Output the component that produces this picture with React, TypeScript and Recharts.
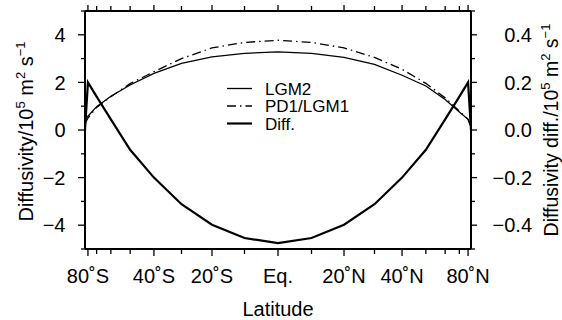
import React from 'react';
import { LineChart, Line, XAxis, YAxis, Legend } from 'recharts';

const latitudes = [-90, -80, -70, -60, -50, -40, -30, -20, -10, 0, 10, 20, 30, 40, 50, 60, 70, 80, 90];
const lgm2 = [0.45, 0.58, 0.98, 1.42, 1.89, 2.38, 2.8, 3.07, 3.22, 3.28, 3.22, 3.05, 2.76, 2.3, 1.85, 1.28, 0.76, 0.45, 0.15];
const pd1 = [0.28, 0.5, 0.95, 1.4, 1.95, 2.45, 3.0, 3.45, 3.68, 3.77, 3.68, 3.45, 3.05, 2.55, 1.96, 1.35, 0.8, 0.45, 0.1];
const diff = [0.0, 0.2, 0.14, 0.045, -0.083, -0.2, -0.312, -0.398, -0.454, -0.475, -0.454, -0.398, -0.312, -0.2, -0.083, 0.045, 0.14, 0.2, 0.0];

const seriesNames = ['LGM2', 'PD1/LGM1', 'Diff.'];
const xTickLats = [-80, -70, -60, -50, -40, -30, -20, -10, 0, 10, 20, 30, 40, 50, 60, 70, 80];
const xTickLabels: Record<string, string> = {
  '-80': '80˚S', '-40': '40˚S', '-20': '20˚S', '0': 'Eq.', '20': '20˚N', '40': '40˚N', '80': '80˚N',
};
const leftTicks = [-5, -4, -3, -2, -1, 0, 1, 2, 3, 4, 5];
const leftLabels: Record<string, string> = { '-4': '−4', '-2': '−2', '0': '0', '2': '2', '4': '4' };
const rightTicks = [-0.5, -0.4, -0.3, -0.2, -0.1, 0, 0.1, 0.2, 0.3, 0.4, 0.5];
const rightLabels: Record<string, string> = { '-4': '−0.4', '-2': '−0.2', '0': '0.0', '2': '0.2', '4': '0.4' };

const FONT = '"Liberation Sans", Arial, Helvetica, sans-serif';
const toX = (lat: number) => Math.sin((lat * Math.PI) / 180);
const toLat = (x: number) => Math.round((Math.asin(Math.max(-1, Math.min(1, x))) * 180) / Math.PI);

const data = latitudes.map((lat, i) => ({ x: toX(lat), lgm2: lgm2[i], pd1: pd1[i], diff: diff[i] }));
const xTicks = xTickLats.map(toX);

const BottomTick = (props: any) => {
  const { x, y, payload } = props;
  const lat = toLat(payload.value);
  const label = xTickLabels[String(lat)];
  return (
    <g>
      <line x1={x} x2={x} y1={y} y2={y + (label ? 7 : 5)} stroke="#000" strokeWidth={1.3} />
      {label && (
        <text x={x} y={y + 34} textAnchor="middle" fontSize={20} fontFamily={FONT} fill="#000">
          {label}
        </text>
      )}
    </g>
  );
};

const TopTick = (props: any) => {
  const { x, y, payload } = props;
  const lat = toLat(payload.value);
  const label = xTickLabels[String(lat)];
  return <line x1={x} x2={x} y1={y} y2={y - (label ? 6 : 5)} stroke="#000" strokeWidth={1.3} />;
};

const LeftTick = (props: any) => {
  const { x, y, payload } = props;
  const label = leftLabels[String(Math.round(payload.value))];
  return (
    <g>
      <line x1={x} x2={x - (label ? 7 : 4)} y1={y} y2={y} stroke="#000" strokeWidth={1.3} />
      {label && (
        <text x={x - 19.5} y={y} dy="0.36em" textAnchor="end" fontSize={20} fontFamily={FONT} fill="#000">
          {label}
        </text>
      )}
    </g>
  );
};

const RightTick = (props: any) => {
  const { x, y, payload } = props;
  const label = rightLabels[String(Math.round(payload.value * 10))];
  return (
    <g>
      <line x1={x} x2={x + (label ? 6 : 4)} y1={y} y2={y} stroke="#000" strokeWidth={1.3} />
      {label && (
        <text x={x + 61} y={y} dy="0.36em" textAnchor="end" fontSize={20} fontFamily={FONT} fill="#000">
          {label}
        </text>
      )}
    </g>
  );
};

const UnitText = ({ prefix }: { prefix: string }) => (
  <>
    <tspan>{prefix}</tspan>
    <tspan dy={-8} fontSize={13}>5</tspan>
    <tspan dy={8}> m</tspan>
    <tspan dy={-8} fontSize={13}>2</tspan>
    <tspan dy={8}> s</tspan>
    <tspan dy={-8} fontSize={13}>−1</tspan>
  </>
);

const LeftTitle = (props: any) => {
  const vb = props.viewBox || { x: 0, y: 11, width: 85, height: 238 };
  const cx = 33;
  const cy = vb.y + vb.height / 2 + 1.5;
  return (
    <text x={cx} y={cy} transform={`rotate(-90 ${cx} ${cy})`} textAnchor="middle" fontSize={20} fontFamily={FONT} fill="#000">
      <UnitText prefix="Diffusivity/10" />
    </text>
  );
};

const RightTitle = (props: any) => {
  const vb = props.viewBox || { x: 471, y: 11, width: 91, height: 238 };
  const cx = vb.x + 86.5;
  const cy = vb.y + vb.height / 2;
  return (
    <text x={cx} y={cy} transform={`rotate(-90 ${cx} ${cy})`} textAnchor="middle" fontSize={19.5} fontFamily={FONT} fill="#000">
      <UnitText prefix="Diffusivity diff./10" />
    </text>
  );
};

const BottomTitle = (props: any) => {
  const vb = props.viewBox || { x: 85, y: 249, width: 386, height: 71 };
  return (
    <text x={vb.x + vb.width / 2} y={vb.y + 67} textAnchor="middle" fontSize={20} fontFamily={FONT} fill="#000">
      Latitude
    </text>
  );
};

const LegendContent = (props: any) => {
  const payload = [...(props.payload || [])].sort(
    (a: any, b: any) => seriesNames.indexOf(a.value) - seriesNames.indexOf(b.value)
  );
  return (
    <svg width={170} height={64} style={{ display: 'block' }}>
      {payload.map((entry: any, i: number) => {
        const p = entry.payload || {};
        const y = 9.5 + i * 17.5;
        return (
          <g key={i}>
            <line x1={1} x2={26} y1={y} y2={y} stroke="#000" strokeWidth={p.strokeWidth || 1.3} strokeDasharray={p.strokeDasharray} />
            <text x={39} y={y} dy="0.36em" fontSize={17} fontFamily={FONT} fill="#000">
              {entry.value}
            </text>
          </g>
        );
      })}
    </svg>
  );
};

export default function App() {
  return (
    <div style={{ position: 'fixed', left: 0, top: 0, width: 562, height: 320, background: '#fff' }}>
      <LineChart width={562} height={320} data={data} margin={{ top: 0, right: 0, bottom: 0, left: 0 }}>
        <XAxis
          xAxisId="b"
          dataKey="x"
          type="number"
          orientation="bottom"
          domain={[-1, 1]}
          ticks={xTicks}
          interval={0}
          tickSize={0}
          tickMargin={0}
          tickLine={false}
          tick={BottomTick}
          axisLine={{ stroke: '#000', strokeWidth: 2 }}
          height={71}
          label={<BottomTitle />}
        />
        <XAxis
          xAxisId="t"
          dataKey="x"
          type="number"
          orientation="top"
          domain={[-1, 1]}
          ticks={xTicks}
          interval={0}
          tickSize={0}
          tickMargin={0}
          tickLine={false}
          tick={TopTick}
          axisLine={{ stroke: '#000', strokeWidth: 2 }}
          height={11}
        />
        <YAxis
          yAxisId="l"
          orientation="left"
          type="number"
          domain={[-5, 5]}
          ticks={leftTicks}
          interval={0}
          tickSize={0}
          tickMargin={0}
          tickLine={false}
          tick={LeftTick}
          axisLine={{ stroke: '#000', strokeWidth: 2 }}
          width={85}
          label={<LeftTitle />}
        />
        <YAxis
          yAxisId="r"
          orientation="right"
          type="number"
          domain={[-0.5, 0.5]}
          ticks={rightTicks}
          interval={0}
          tickSize={0}
          tickMargin={0}
          tickLine={false}
          tick={RightTick}
          axisLine={{ stroke: '#000', strokeWidth: 2 }}
          width={91}
          label={<RightTitle />}
        />
        <Legend
          layout="vertical"
          align="center"
          verticalAlign="middle"
          content={<LegendContent />}
          wrapperStyle={{ position: 'absolute', left: 226, top: 79, width: 170, height: 64 }}
        />
        <Line xAxisId="b" yAxisId="l" type="linear" dataKey="lgm2" name="LGM2" stroke="#000" strokeWidth={1.3} dot={false} activeDot={false} isAnimationActive={false} />
        <Line xAxisId="b" yAxisId="l" type="linear" dataKey="pd1" name="PD1/LGM1" stroke="#000" strokeWidth={1.3} strokeDasharray="9 4 1.5 4" dot={false} activeDot={false} isAnimationActive={false} />
        <Line xAxisId="b" yAxisId="r" type="linear" dataKey="diff" name="Diff." stroke="#000" strokeWidth={2.2} dot={false} activeDot={false} isAnimationActive={false} />
      </LineChart>
    </div>
  );
}
